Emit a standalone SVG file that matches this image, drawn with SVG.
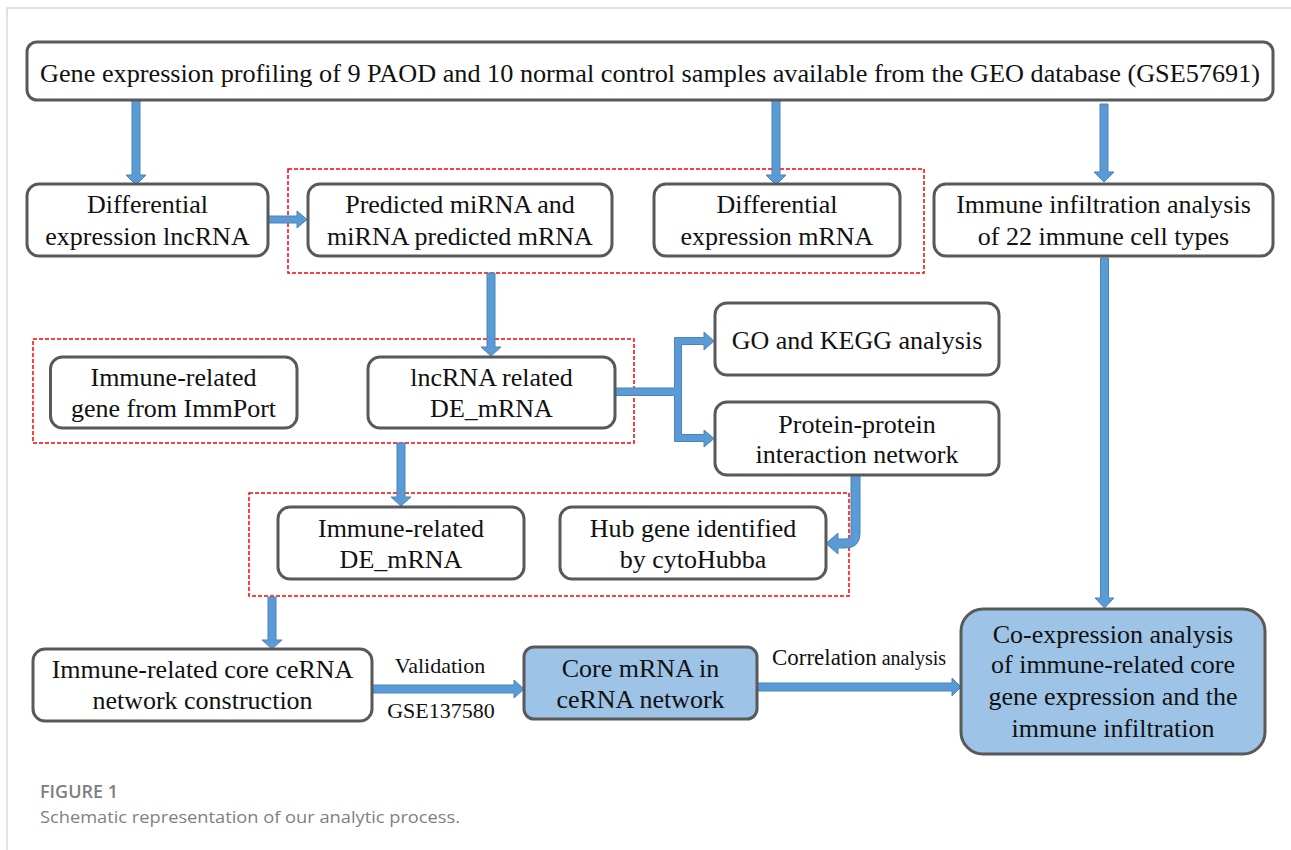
<svg xmlns="http://www.w3.org/2000/svg" width="1291" height="850" viewBox="0 0 1291 850">
<style>
.frame{stroke:#d9d9d9;stroke-width:1.5;fill:none}
.box{fill:#ffffff;stroke:#595959;stroke-width:3}
.blue{fill:#9dc3e6;stroke:#595959;stroke-width:3}
.grp{fill:none;stroke:#ff0000;stroke-width:1.5;stroke-dasharray:4 2}
.t{font-family:"Liberation Serif","Times New Roman",serif;font-size:26px;fill:#111;text-anchor:middle}
.lbl{font-family:"Liberation Serif","Times New Roman",serif;font-size:22px;fill:#111;text-anchor:middle}
.arr{fill:#5b9bd5;stroke:#4a84bb;stroke-width:1}
.cap1{font-family:"Open Sans","Noto Sans",sans-serif;font-size:18px;font-weight:600;fill:#7f7f7f}
.cap2{font-family:"Open Sans","Noto Sans",sans-serif;font-size:16px;fill:#7f7f7f}
</style>
<rect width="1291" height="850" fill="#ffffff"/>
<path class="frame" d="M7,850 L7,8 L1291,8"/>

<g id="groups">
<rect class="grp" x="288" y="169" width="636" height="104"/>
<rect class="grp" x="33" y="339" width="601" height="104"/>
<rect class="grp" x="249" y="493" width="600" height="103"/>
</g>

<g id="connectors">
<polygon class="arr" points="132,100 140,100 140,175 146,175 136,185 126,175 132,175"/>
<polygon class="arr" points="772,100 780,100 780,175 786,175 776,185 766,175 772,175"/>
<polygon class="arr" points="1100,104 1108,104 1108,172 1114,172 1104,182 1094,172 1100,172"/>
<polygon class="arr" points="268,216 297,216 297,211 307,219.5 297,228 297,223 268,223"/>
<polygon class="arr" points="487,273 495,273 495,347 501,347 491,356 481,347 487,347"/>
<polygon class="arr" points="615,388 674.5,388 674.5,337.5 704,337.5 704,332 714,341 704,350 704,344.5 681.5,344.5 681.5,434.5 704,434.5 704,430 714,438.5 704,447 704,441.5 674.5,441.5 674.5,395.5 615,395.5"/>
<polygon class="arr" points="397,443 405,443 405,497 411,497 401,506 391,497 397,497"/>
<path class="arr" d="M851,475 L860,475 L860,533 Q860,548 845,548 L838,548 L838,554 L826,543.5 L838,533 L838,539 L845,539 Q851,539 851,533 Z"/>
<polygon class="arr" points="268,597 276,597 276,640 282,640 272,649 262,640 268,640"/>
<polygon class="arr" points="372,685 514,685 514,680 524,689 514,698 514,693 372,693"/>
<polygon class="arr" points="757,683 952,683 952,678 961,687 952,696 952,691 757,691"/>
<polygon class="arr" points="1100.5,258 1108.5,258 1108.5,598 1114,598 1104.5,608 1095,598 1100.5,598"/>
<text class="lbl" x="440" y="673">Validation</text>
<text class="lbl" x="441" y="718" font-size="23">GSE137580</text>
<text class="lbl" x="859" y="665"><tspan font-size="23">Correlation</tspan><tspan font-size="20"> analysis</tspan></text>
</g>

<g id="n_top">
<rect class="box" x="27" y="42" width="1246" height="58" rx="10"/>
<text class="t" x="650" y="82" textLength="1220" lengthAdjust="spacingAndGlyphs">Gene expression profiling of 9 PAOD and 10 normal control samples available from the GEO database (GSE57691)</text>
</g>

<g id="n_lnc">
<rect class="box" x="27" y="184" width="241" height="72" rx="12"/>
<text class="t" x="147.5" y="213">Differential</text>
<text class="t" x="147.5" y="245">expression lncRNA</text>
</g>

<g id="n_pred">
<rect class="box" x="308" y="184" width="304" height="72" rx="12"/>
<text class="t" x="460" y="213">Predicted miRNA and</text>
<text class="t" x="460" y="245">miRNA predicted mRNA</text>
</g>

<g id="n_demrna">
<rect class="box" x="654" y="184" width="246" height="72" rx="12"/>
<text class="t" x="777" y="213">Differential</text>
<text class="t" x="777" y="245">expression mRNA</text>
</g>

<g id="n_infil">
<rect class="box" x="934" y="184" width="339" height="72" rx="12"/>
<text class="t" x="1103.5" y="213">Immune infiltration analysis</text>
<text class="t" x="1103.5" y="245">of 22 immune cell types</text>
</g>

<g id="n_immport">
<rect class="box" x="50.5" y="357" width="246.5" height="71" rx="12"/>
<text class="t" x="173.5" y="386">Immune-related</text>
<text class="t" x="173.5" y="417">gene from ImmPort</text>
</g>

<g id="n_lncde">
<rect class="box" x="368" y="357" width="247" height="71" rx="12"/>
<text class="t" x="491.5" y="386">lncRNA related</text>
<text class="t" x="491.5" y="417">DE_mRNA</text>
</g>

<g id="n_go">
<rect class="box" x="715" y="303" width="284" height="72" rx="12"/>
<text class="t" x="857" y="349">GO and KEGG analysis</text>
</g>

<g id="n_ppi">
<rect class="box" x="715" y="402" width="284" height="73" rx="12"/>
<text class="t" x="857" y="433">Protein-protein</text>
<text class="t" x="857" y="463">interaction network</text>
</g>

<g id="n_immde">
<rect class="box" x="278" y="507" width="246" height="72" rx="12"/>
<text class="t" x="401" y="537">Immune-related</text>
<text class="t" x="401" y="568">DE_mRNA</text>
</g>

<g id="n_hub">
<rect class="box" x="560" y="507" width="266" height="72" rx="12"/>
<text class="t" x="693" y="537">Hub gene identified</text>
<text class="t" x="693" y="568">by cytoHubba</text>
</g>

<g id="n_core">
<rect class="box" x="33" y="649" width="339" height="72" rx="12"/>
<text class="t" x="202.5" y="678">Immune-related core ceRNA</text>
<text class="t" x="202.5" y="709">network construction</text>
</g>

<g id="n_coremrna">
<rect class="blue" x="524" y="647" width="233" height="72" rx="10"/>
<text class="t" x="640.5" y="677">Core mRNA in</text>
<text class="t" x="640.5" y="708">ceRNA network</text>
</g>

<g id="n_coexp">
<rect class="blue" x="961" y="609" width="304" height="145" rx="22"/>
<text class="t" x="1113" y="643">Co-expression analysis</text>
<text class="t" x="1113" y="673">of immune-related core</text>
<text class="t" x="1113" y="705">gene expression and the</text>
<text class="t" x="1113" y="737">immune infiltration</text>
</g>

<g id="caption">
<text class="cap1" x="40" y="798">FIGURE 1</text>
<text class="cap2" x="40" y="823" textLength="420" lengthAdjust="spacingAndGlyphs">Schematic representation of our analytic process.</text>
</g>
</svg>
